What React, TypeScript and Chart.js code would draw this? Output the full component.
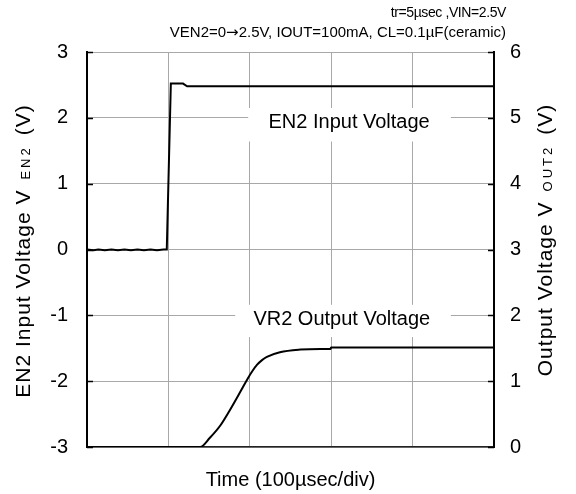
import React, { useEffect, useRef } from "react";
import { Chart, registerables } from "chart.js";

Chart.register(...registerables);

// ---- data (time in µs, 100 µs/div) ----
const en2Time = [0, 8, 14, 22, 30, 38, 46, 54, 62, 70, 78, 86, 94, 98, 103, 118, 123, 200, 300, 400, 500];
const en2Volt = [0, -0.012, 0, -0.012, 0, -0.012, 0, -0.012, 0, -0.012, 0, -0.012, 0, 0, 2.52, 2.52, 2.48, 2.48, 2.48, 2.48, 2.48];

const vr2Time = [0, 100, 139, 151, 164, 176, 188, 197, 203, 209, 215, 221, 237, 262, 287, 299, 300, 400, 500];
const vr2Volt = [0, 0, 0, 0.14, 0.33, 0.57, 0.83, 1.03, 1.15, 1.25, 1.32, 1.37, 1.44, 1.48, 1.49, 1.49, 1.51, 1.51, 1.51];

const headerLine1 = "tr=5µsec ,VIN=2.5V";
const headerLine2 = ["VEN2=0", "→", "2.5V, IOUT=100mA, CL=0.1µF(ceramic)"];
const xTitle = "Time (100µsec/div)";
const leftTitle = ["EN2 Input Voltage V", "EN2", "(V)"];
const rightTitle = ["Output Voltage V", "OUT2", "(V)"];
const en2Label = "EN2 Input Voltage";
const vr2Label = "VR2 Output Voltage";

const FONT = "'Liberation Sans', Arial, sans-serif";
const GRID = "#a8a8a8";

function drawRotatedTitle(ctx: CanvasRenderingContext2D, parts: string[], cx: number, cy: number) {
  ctx.save();
  ctx.translate(cx, cy);
  ctx.rotate(-Math.PI / 2);
  ctx.textBaseline = "alphabetic";
  ctx.textAlign = "left";
  const big = `21px ${FONT}`;
  const small = `13px ${FONT}`;
  const gap = 10;
  const lsBig = 1;
  const lsSmall = 3;
  const c = ctx as any;
  ctx.font = big;
  c.letterSpacing = `${lsBig}px`;
  const w0 = ctx.measureText(parts[0]).width;
  const w2 = ctx.measureText(parts[2]).width;
  ctx.font = small;
  c.letterSpacing = `${lsSmall}px`;
  const w1 = ctx.measureText(parts[1]).width;
  const total = w0 + gap + w1 + gap + w2;
  let pos = -total / 2;
  ctx.fillStyle = "#000";
  ctx.font = big;
  c.letterSpacing = `${lsBig}px`;
  ctx.fillText(parts[0], pos, 0);
  pos += w0 + gap;
  ctx.font = small;
  c.letterSpacing = `${lsSmall}px`;
  ctx.fillText(parts[1], pos, 0);
  pos += w1 + gap;
  ctx.font = big;
  c.letterSpacing = `${lsBig}px`;
  ctx.fillText(parts[2], pos, 0);
  c.letterSpacing = "0px";
  ctx.restore();
}

const decorPlugin = {
  id: "decor",
  beforeDatasetsDraw(chart: any) {
    const { ctx, scales } = chart;
    const x = scales.x;
    const y = scales.y;
    const boxes = [
      { x0: 198, x1: 447, y0: 2.15, y1: 1.64, tx: 322, ty: 1.93, text: en2Label },
      { x0: 182, x1: 447, y0: -0.84, y1: -1.33, tx: 313, ty: -1.06, text: vr2Label },
    ];
    ctx.save();
    for (const b of boxes) {
      const px0 = x.getPixelForValue(b.x0);
      const px1 = x.getPixelForValue(b.x1);
      const py0 = y.getPixelForValue(b.y0);
      const py1 = y.getPixelForValue(b.y1);
      ctx.fillStyle = "#fff";
      ctx.fillRect(px0, py0, px1 - px0, py1 - py0);
      ctx.fillStyle = "#000";
      ctx.font = `20px ${FONT}`;
      ctx.textAlign = "center";
      ctx.textBaseline = "middle";
      ctx.fillText(b.text, x.getPixelForValue(b.tx), y.getPixelForValue(b.ty));
    }
    ctx.restore();
  },
  afterDraw(chart: any) {
    const { ctx, chartArea, scales } = chart;
    const y = scales.y;
    const y2 = scales.y2;
    const c = ctx as any;
    ctx.save();
    // inner tick marks
    ctx.strokeStyle = "#000";
    ctx.lineWidth = 1.5;
    ctx.beginPath();
    for (let v = -3; v <= 3; v++) {
      const py = Math.round(y.getPixelForValue(v)) + 0.5;
      ctx.moveTo(chartArea.left, py);
      ctx.lineTo(chartArea.left + 6, py);
    }
    for (let v = 0; v <= 6; v++) {
      const py = Math.round(y2.getPixelForValue(v)) + 0.5;
      ctx.moveTo(chartArea.right - 6, py);
      ctx.lineTo(chartArea.right, py);
    }
    ctx.stroke();

    // header
    ctx.fillStyle = "#000";
    ctx.textBaseline = "alphabetic";
    ctx.textAlign = "left";
    const rightEdge = 506;
    ctx.font = `14px ${FONT}`;
    c.letterSpacing = "-0.4px";
    const wl1 = ctx.measureText(headerLine1).width;
    ctx.fillText(headerLine1, rightEdge - wl1, 17);
    c.letterSpacing = "0px";

    const f15 = `15px ${FONT}`;
    const fArrow = `15px 'DejaVu Sans', ${FONT}`;
    ctx.font = f15;
    const wa = ctx.measureText(headerLine2[0]).width;
    const wc = ctx.measureText(headerLine2[2]).width;
    ctx.font = fArrow;
    const wb = ctx.measureText(headerLine2[1]).width;
    let px = rightEdge - (wa + wb + wc);
    ctx.font = f15;
    ctx.fillText(headerLine2[0], px, 37);
    px += wa;
    ctx.font = fArrow;
    ctx.fillText(headerLine2[1], px, 37);
    px += wb;
    ctx.font = f15;
    ctx.fillText(headerLine2[2], px, 37);

    // x title
    ctx.font = `20px ${FONT}`;
    ctx.textAlign = "center";
    ctx.fillText(xTitle, (chartArea.left + chartArea.right) / 2, 486);

    ctx.restore();
    drawRotatedTitle(ctx, leftTitle, 30, 251);
    drawRotatedTitle(ctx, rightTitle, 552, 240);
  },
};

export default function App() {
  const ref = useRef<HTMLCanvasElement | null>(null);
  useEffect(() => {
    if (!ref.current) return;
    const chart = new Chart(ref.current, {
      type: "line",
      data: {
        datasets: [
          {
            label: "EN2",
            data: en2Time.map((t, i) => ({ x: t, y: en2Volt[i] })),
            borderColor: "#000",
            borderWidth: 2,
            pointRadius: 0,
            tension: 0,
            yAxisID: "y",
          },
          {
            label: "VR2",
            data: vr2Time.map((t, i) => ({ x: t, y: vr2Volt[i] })),
            borderColor: "#000",
            borderWidth: 2,
            pointRadius: 0,
            cubicInterpolationMode: "monotone",
            yAxisID: "y2",
          },
        ],
      },
      options: {
        animation: false,
        responsive: false,
        devicePixelRatio: 1,
        layout: { padding: { top: 52, left: 0, right: 0, bottom: 0 } },
        plugins: { legend: { display: false }, tooltip: { enabled: false }, title: { display: false } },
        scales: {
          x: {
            type: "linear",
            min: 0,
            max: 500,
            ticks: { stepSize: 100, display: false },
            grid: { color: GRID, lineWidth: 1, drawTicks: false },
            border: { color: "#222", width: 1.5 },
            afterFit: (s: any) => { s.height = 47; },
          },
          y: {
            type: "linear",
            position: "left",
            min: -3,
            max: 3,
            ticks: { stepSize: 1, color: "#000", font: { family: FONT, size: 20 }, padding: 19 },
            grid: { color: GRID, lineWidth: 1, drawTicks: false },
            border: { color: "#000", width: 2 },
            afterFit: (s: any) => { s.width = 87; },
          },
          y2: {
            type: "linear",
            position: "right",
            min: 0,
            max: 6,
            ticks: { stepSize: 1, color: "#000", font: { family: FONT, size: 20 }, padding: 16 },
            grid: { drawOnChartArea: false, drawTicks: false },
            border: { color: "#000", width: 2 },
            afterFit: (s: any) => { s.width = 82; },
          },
        },
      },
      plugins: [decorPlugin],
    });
    return () => chart.destroy();
  }, []);
  return (
    <div style={{ position: "fixed", left: 0, top: 0, width: 576, height: 494, background: "#fff" }}>
      <canvas ref={ref} width={576} height={494} style={{ display: "block" }} />
    </div>
  );
}
